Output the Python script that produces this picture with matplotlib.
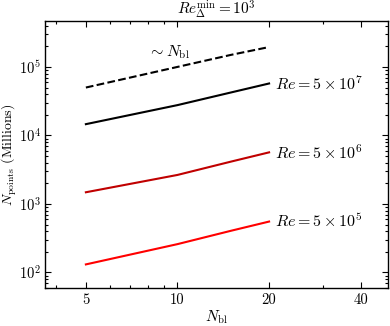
import numpy as np
import matplotlib
matplotlib.use("Agg")
import matplotlib.pyplot as plt
from matplotlib.ticker import FixedLocator, NullFormatter, LogLocator

plt.rcParams["font.family"] = "serif"
plt.rcParams["font.serif"] = ["cmr10", "DejaVu Serif"]
plt.rcParams["mathtext.fontset"] = "cm"
plt.rcParams["axes.formatter.use_mathtext"] = True

# data
n_bl = [5, 10, 15, 20]
scaling = [5.0e4, 1.0e5, 1.5e5, 1.95e5]  # ~ N_bl guide
re_5e7 = [1.46e4, 2.77e4, 4.24e4, 5.73e4]
re_5e6 = [1.48e3, 2.65e3, 4.15e3, 5.66e3]
re_5e5 = [131, 259, 406, 553]
x_ticks = [5, 10, 20, 40]

fig = plt.figure(figsize=(3.9, 3.26), dpi=100)
ax = fig.add_axes([0.1154, 0.1166, 0.8796, 0.819])

ax.plot(n_bl, scaling, "k--", lw=1.5)
ax.plot(n_bl, re_5e7, color="black", lw=1.5)
ax.plot(n_bl, re_5e6, color="#c00000", lw=1.5)
ax.plot(n_bl, re_5e5, color="#ff0000", lw=1.5)

ax.set_xscale("log")
ax.set_yscale("log")
ax.set_xlim(3.67, 49.2)
ax.set_ylim(59.3, 4.68e5)

ax.xaxis.set_major_locator(FixedLocator(x_ticks))
ax.xaxis.set_major_formatter(plt.FixedFormatter([str(t) for t in x_ticks]))
ax.xaxis.set_minor_locator(LogLocator(base=10, subs=np.arange(2, 10)))
ax.xaxis.set_minor_formatter(NullFormatter())
ax.yaxis.set_major_locator(LogLocator(base=10, numticks=10))
ax.yaxis.set_minor_locator(LogLocator(base=10, subs=np.arange(2, 10), numticks=10))
ax.yaxis.set_minor_formatter(NullFormatter())

ax.tick_params(which="both", direction="in", top=True, right=True, labelsize=10.5)
ax.tick_params(which="major", length=4, width=0.8)
ax.tick_params(which="minor", length=2.5, width=0.8)
ax.tick_params(axis="y", pad=3)
for s in ax.spines.values():
    s.set_linewidth(1.0)

ax.text(20.9, re_5e7[-1], r"$Re = 5 \times 10^7$", fontsize=11.5, va="center", ha="left")
ax.text(20.9, re_5e6[-1], r"$Re = 5 \times 10^6$", fontsize=11.5, va="center", ha="left")
ax.text(20.9, re_5e5[-1], r"$Re = 5 \times 10^5$", fontsize=11.5, va="center", ha="left")
ax.text(8.0, 1.64e5, r"$\sim N_{\rm bl}$", fontsize=11.5, va="center", ha="left")

ax.set_title(r"$Re_{\Delta}^{\min} = 10^3$", fontsize=11, pad=1)
ax.set_xlabel(r"$N_{\rm bl}$", fontsize=11, labelpad=1)
ax.set_ylabel(r"$N_{\rm points}$ (Millions)", fontsize=10)
ax.yaxis.set_label_coords(-0.076, 0.5)

fig.savefig("out.png", dpi=100)
